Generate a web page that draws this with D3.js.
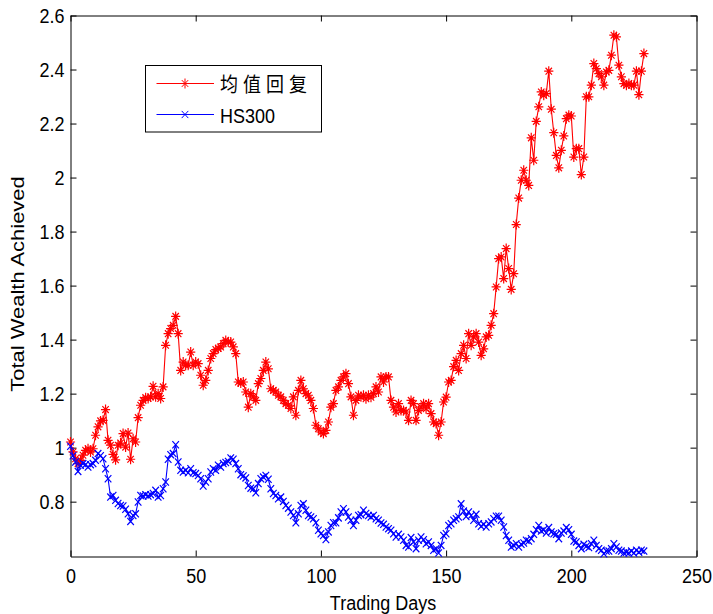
<!DOCTYPE html>
<html>
<head>
<meta charset="utf-8">
<script src="https://cdn.jsdelivr.net/npm/d3@7"></script>
<style>
  body { margin: 0; background: #fff; }
  svg text { font-family: "Liberation Sans", Arial, sans-serif; font-size: 18px; fill: #000; }
  svg text.cjk { font-family: "Noto Sans CJK SC", sans-serif; }
</style>
</head>
<body>
<script>
const WIDTH = 713, HEIGHT = 614;
const LEFT = 70.5, RIGHT = 696.5, TOP = 15.5, BOTTOM = 556.5;
const STRETCH = 1.12; // text in the picture is a bit taller than wide

// data
const seriesNames = ["均值回复", "HS300"];
const meanRevert = [
  1.021, 0.984, 0.959, 0.941, 0.953, 0.972, 0.990, 0.996, 0.984, 0.996,
  1.046, 1.077, 1.099, 1.101, 1.141, 1.027, 1.009, 0.975, 0.955, 1.009,
  1.017, 1.052, 1.002, 1.054, 0.957, 1.033, 1.021, 1.111, 1.157, 1.175,
  1.185, 1.182, 1.188, 1.227, 1.188, 1.200, 1.182, 1.225, 1.379, 1.422,
  1.441, 1.453, 1.486, 1.422, 1.286, 1.317, 1.305, 1.305, 1.354, 1.305,
  1.317, 1.311, 1.268, 1.231, 1.249, 1.286, 1.330, 1.348, 1.363, 1.367,
  1.373, 1.385, 1.397, 1.391, 1.391, 1.373, 1.348, 1.243, 1.239, 1.243,
  1.206, 1.150, 1.200, 1.188, 1.175, 1.237, 1.256, 1.286, 1.317, 1.292,
  1.218, 1.212, 1.206, 1.194, 1.188, 1.175, 1.163, 1.157, 1.145, 1.188,
  1.120, 1.212, 1.249, 1.218, 1.200, 1.194, 1.175, 1.145, 1.083, 1.070,
  1.058, 1.052, 1.064, 1.095, 1.150, 1.163, 1.212, 1.225, 1.249, 1.262,
  1.274, 1.237, 1.188, 1.120, 1.175, 1.194, 1.188, 1.194, 1.181, 1.194,
  1.187, 1.200, 1.225, 1.206, 1.262, 1.243, 1.262, 1.262, 1.175, 1.150,
  1.132, 1.163, 1.138, 1.138, 1.132, 1.101, 1.175, 1.163, 1.101, 1.138,
  1.150, 1.163, 1.144, 1.163, 1.126, 1.095, 1.089, 1.046, 1.095, 1.169,
  1.187, 1.243, 1.249, 1.300, 1.323, 1.286, 1.348, 1.379, 1.330, 1.422,
  1.379, 1.410, 1.422, 1.391, 1.342, 1.366, 1.410, 1.416, 1.453, 1.496,
  1.595, 1.700, 1.706, 1.626, 1.737, 1.663, 1.586, 1.644, 1.826, 1.924,
  1.990, 2.027, 1.990, 1.971, 2.147, 2.064, 2.208, 2.262, 2.317, 2.305,
  2.311, 2.394, 2.253, 2.166, 2.082, 2.036, 2.101, 2.154, 2.218, 2.231,
  2.228, 2.076, 2.107, 2.107, 2.011, 2.076, 2.299, 2.299, 2.342, 2.422,
  2.403, 2.385, 2.373, 2.342, 2.391, 2.397, 2.453, 2.527, 2.521, 2.416,
  2.373, 2.348, 2.342, 2.348, 2.342, 2.342, 2.394, 2.307, 2.394, 2.459
];
const hs300 = [
  1.005, 0.970, 0.947, 0.912, 0.935, 0.941, 0.937, 0.928, 0.937, 0.941,
  0.953, 0.978, 0.970, 0.959, 0.922, 0.885, 0.817, 0.823, 0.805, 0.793,
  0.786, 0.784, 0.772, 0.755, 0.727, 0.749, 0.755, 0.799, 0.823, 0.821,
  0.826, 0.821, 0.826, 0.830, 0.842, 0.817, 0.823, 0.848, 0.873, 0.957,
  0.974, 0.978, 1.011, 0.947, 0.916, 0.910, 0.916, 0.907, 0.922, 0.907,
  0.904, 0.897, 0.885, 0.858, 0.873, 0.885, 0.910, 0.922, 0.916, 0.935,
  0.928, 0.941, 0.945, 0.949, 0.962, 0.957, 0.941, 0.922, 0.900, 0.895,
  0.888, 0.860, 0.850, 0.848, 0.833, 0.867, 0.885, 0.891, 0.897, 0.883,
  0.848, 0.830, 0.823, 0.811, 0.817, 0.801, 0.786, 0.776, 0.762, 0.749,
  0.722, 0.755, 0.786, 0.792, 0.768, 0.749, 0.743, 0.737, 0.722, 0.694,
  0.681, 0.675, 0.660, 0.688, 0.712, 0.722, 0.722, 0.740, 0.762, 0.774,
  0.762, 0.743, 0.731, 0.712, 0.731, 0.749, 0.752, 0.768, 0.756, 0.749,
  0.743, 0.749, 0.737, 0.731, 0.721, 0.716, 0.706, 0.700, 0.694, 0.681,
  0.669, 0.679, 0.669, 0.657, 0.638, 0.632, 0.667, 0.651, 0.626, 0.657,
  0.669, 0.659, 0.644, 0.651, 0.638, 0.620, 0.626, 0.610, 0.638, 0.675,
  0.681, 0.712, 0.718, 0.731, 0.737, 0.743, 0.792, 0.765, 0.745, 0.762,
  0.749, 0.731, 0.753, 0.718, 0.709, 0.716, 0.706, 0.718, 0.725, 0.737,
  0.746, 0.746, 0.731, 0.706, 0.675, 0.657, 0.632, 0.638, 0.644, 0.632,
  0.642, 0.647, 0.657, 0.654, 0.663, 0.679, 0.696, 0.712, 0.691, 0.696,
  0.684, 0.704, 0.688, 0.681, 0.679, 0.663, 0.684, 0.691, 0.704, 0.696,
  0.679, 0.654, 0.651, 0.638, 0.626, 0.642, 0.635, 0.630, 0.644, 0.657,
  0.638, 0.626, 0.620, 0.607, 0.617, 0.617, 0.626, 0.644, 0.632, 0.620,
  0.617, 0.610, 0.613, 0.610, 0.617, 0.610, 0.620, 0.613, 0.620, 0.617
];
const xTicks = [0, 50, 100, 150, 200, 250];
const yTicks = [0.8, 1, 1.2, 1.4, 1.6, 1.8, 2, 2.2, 2.4, 2.6];
const colors = ["#ff0000", "#0000ff"];

// marker shapes: MATLAB '*' and 'x'
const STAR = "M-4.6,0H4.6M0,-5V5M-3.2,-3.4L3.2,3.4M-3.2,3.4L3.2,-3.4";
const CROSS = "M-3.3,-3.6L3.3,3.6M-3.3,3.6L3.3,-3.6";

const svg = d3.select("body").append("svg")
  .attr("width", WIDTH)
  .attr("height", HEIGHT);

const x = d3.scaleLinear().domain([0, 250]).range([LEFT, RIGHT]);
const y = d3.scaleLinear().domain([0.597, 2.6]).range([BOTTOM, TOP]);

// box axes, ticks pointing in
const xAxis = svg.append("g")
  .attr("transform", "translate(0," + BOTTOM + ")")
  .call(d3.axisBottom(x).tickValues(xTicks).tickSizeInner(-6).tickSizeOuter(0).tickPadding(0));
xAxis.selectAll("text")
  .attr("y", null).attr("dy", null)
  .attr("transform", "translate(0,26.5) scale(1," + STRETCH + ")");

const yAxis = svg.append("g")
  .attr("transform", "translate(" + LEFT + ",0)")
  .call(d3.axisLeft(y).tickValues(yTicks).tickSizeInner(-6).tickSizeOuter(0).tickPadding(0)
    .tickFormat(d3.format("~g")));
yAxis.selectAll("text")
  .attr("x", null).attr("dy", null)
  .attr("transform", "translate(-6,7) scale(1," + STRETCH + ")");

svg.append("g")
  .attr("transform", "translate(0," + TOP + ")")
  .call(d3.axisTop(x).tickValues(xTicks).tickSizeInner(-6).tickSizeOuter(0).tickFormat(""));
svg.append("g")
  .attr("transform", "translate(" + RIGHT + ",0)")
  .call(d3.axisRight(y).tickValues(yTicks).tickSizeInner(-6).tickSizeOuter(0).tickFormat(""));

svg.selectAll(".tick line, .domain").attr("stroke", "#000");

// axis titles
svg.append("text")
  .attr("transform", "translate(383,609.5) scale(1," + STRETCH + ")")
  .attr("text-anchor", "middle")
  .text("Trading Days");
svg.append("text")
  .attr("transform", "translate(24,284) scale(1,1.22) rotate(-90)")
  .attr("text-anchor", "middle")
  .text("Total Wealth Achieved");

// series
const line = d3.line().x((d, i) => x(i)).y(d => y(d));
const series = [meanRevert, hs300];
const shapes = [STAR, CROSS];

series.forEach((vals, k) => {
  const g = svg.append("g");
  g.append("path")
    .attr("d", line(vals))
    .attr("fill", "none")
    .attr("stroke", colors[k])
    .attr("stroke-width", 1.1);
  g.selectAll("path.mk")
    .data(vals)
    .join("path")
      .attr("class", "mk")
      .attr("transform", (d, i) => "translate(" + x(i) + "," + y(d) + ")")
      .attr("d", shapes[k])
      .attr("fill", "none")
      .attr("stroke", colors[k])
      .attr("stroke-width", 1.2);
});

// legend
const legend = svg.append("g");
legend.append("rect")
  .attr("x", 145.5).attr("y", 65.5)
  .attr("width", 176).attr("height", 66.5)
  .attr("fill", "#fff").attr("stroke", "#000");
const rowsY = [83.5, 114.5];
seriesNames.forEach((name, k) => {
  legend.append("line")
    .attr("x1", 156.5).attr("x2", 214)
    .attr("y1", rowsY[k]).attr("y2", rowsY[k])
    .attr("stroke", colors[k]);
  legend.append("path")
    .attr("transform", "translate(185," + rowsY[k] + ")")
    .attr("d", shapes[k])
    .attr("fill", "none")
    .attr("stroke", colors[k]);
});
legend.append("text")
  .attr("class", "cjk")
  .attr("transform", "translate(220,92) scale(1," + STRETCH + ")")
  .style("letter-spacing", "5px")
  .text(seriesNames[0]);
legend.append("text")
  .attr("transform", "translate(220,123.3) scale(1," + STRETCH + ")")
  .text(seriesNames[1]);
</script>
</body>
</html>
